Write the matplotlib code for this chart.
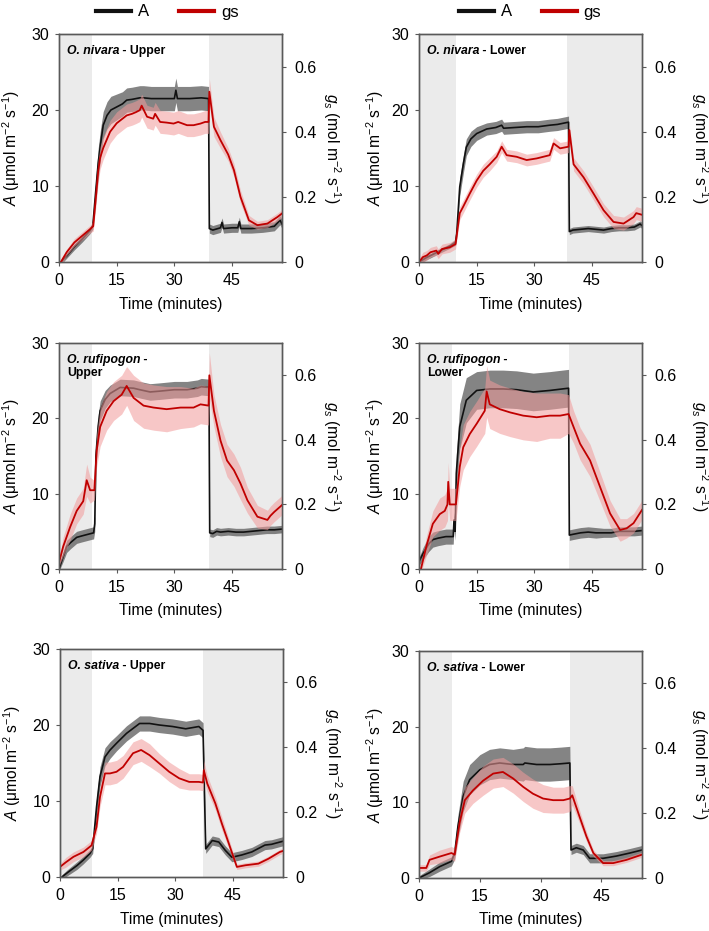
import matplotlib
matplotlib.use("Agg")
import matplotlib.pyplot as plt
from matplotlib.lines import Line2D
import numpy as np

plt.rcParams["font.family"] = ["Liberation Sans", "DejaVu Sans"]
plt.rcParams["mathtext.fontset"] = "custom"
plt.rcParams["mathtext.rm"] = "Liberation Sans"
plt.rcParams["mathtext.it"] = "Liberation Sans:italic"
plt.rcParams["mathtext.bf"] = "Liberation Sans:bold"

SPINE = "#595959"
SHADE = "#ebebeb"
BLACK = "#111111"
RED = "#c00000"
GRAY_BAND = "#6e6e6e"
PINK_BAND = "#f29a9a"

# ── data ──
SPECIES = ["O. nivara", "O. nivara", "O. rufipogon", "O. rufipogon", "O. sativa", "O. sativa"]
SIDES = ["Upper", "Lower", "Upper", "Lower", "Upper", "Lower"]
XMAX = [58, 58, 58, 58, 58, 55]
DARK_END = [8.6, 9.6, 8.6, 8.6, 8.3, 8.1]
DARK_START = [38.9, 38.6, 38.9, 38.9, 37.2, 37.3]

# O. nivara - Upper
T_A1 = [0.5, 2, 4, 6, 8, 8.8, 9.5, 10.2, 10.8, 11.5, 12.5, 13.5, 15, 16.5, 17.6, 19, 21, 22, 24, 27,
        30, 30.4, 30.8, 34, 37, 38.9, 39.1, 40, 42, 42.4, 42.8, 45, 46.5, 46.9, 47.3, 50, 53, 56, 57.5, 58]
A1 = [0, 0.8, 2.0, 3.0, 4.1, 4.8, 9.0, 13.0, 15.5, 18.0, 19.3, 20.0, 20.4, 20.8, 21.3, 21.4, 21.6, 21.6, 21.5, 21.5,
      21.5, 22.6, 21.5, 21.5, 21.6, 21.5, 4.4, 4.2, 4.5, 5.2, 4.4, 4.5, 4.5, 5.3, 4.4, 4.4, 4.5, 4.7, 5.5, 5.0]
A1_ERR = [0.3, 0.3, 0.4, 0.4, 0.4, 0.5, 1.5, 2.0, 2.0, 1.8, 1.8, 1.8, 1.7, 1.6, 1.6, 1.6, 1.6, 1.6, 1.6, 1.6,
          1.6, 1.6, 1.6, 1.6, 1.6, 1.6, 0.6, 0.6, 0.6, 0.6, 0.6, 0.6, 0.6, 0.6, 0.6, 0.6, 0.6, 0.6, 0.6, 0.6]
T_G1 = [0.5, 2, 4, 6, 8, 8.9, 9.6, 10.2, 10.7, 11.5, 13.3, 15, 17.6, 19, 20, 21, 21.5, 22.9, 24.5, 25,
        26.3, 28, 29.8, 31, 33.3, 35, 36.8, 38, 38.9, 39.1, 40.3, 42, 44, 45.5, 47.2, 49.4, 51.6, 54.2, 56.8, 58]
G1 = [0.0, 0.03, 0.06, 0.08, 0.10, 0.11, 0.20, 0.28, 0.32, 0.35, 0.40, 0.426, 0.45, 0.455, 0.46, 0.466, 0.48, 0.446, 0.44, 0.455,
      0.43, 0.428, 0.425, 0.43, 0.42, 0.42, 0.425, 0.43, 0.43, 0.523, 0.415, 0.374, 0.33, 0.282, 0.20, 0.128, 0.113, 0.118, 0.138, 0.149]
G1_ERR = [0.01, 0.01, 0.012, 0.012, 0.012, 0.015, 0.03, 0.035, 0.035, 0.035, 0.035, 0.035, 0.035, 0.035, 0.035, 0.035, 0.035, 0.035, 0.035, 0.035,
          0.035, 0.035, 0.035, 0.035, 0.035, 0.035, 0.035, 0.035, 0.035, 0.04, 0.03, 0.025, 0.02, 0.02, 0.02, 0.015, 0.012, 0.012, 0.012, 0.012]

# O. nivara - Lower
T_A2 = [0, 2, 4, 6, 8, 9.5, 9.8, 10.6, 11.5, 12.3, 13.5, 15, 17.6, 20, 21.5, 22, 25, 28, 31, 34,
        36, 38.9, 39.1, 40, 42, 44, 46, 48, 50, 52, 54, 56, 57.5, 58]
A2 = [0, 0.6, 1.1, 1.6, 2.1, 2.6, 3.7, 9.9, 12.8, 15.1, 16.2, 16.9, 17.5, 17.7, 18.0, 17.6, 17.7, 17.8, 17.8, 18.0,
      18.1, 18.4, 4.0, 4.2, 4.3, 4.4, 4.3, 4.2, 4.4, 4.5, 4.5, 4.6, 5.0, 4.8]
A2_ERR = [0.3, 0.3, 0.3, 0.3, 0.3, 0.4, 0.6, 1.2, 1.2, 1.1, 1.0, 0.9, 0.8, 0.8, 0.8, 0.8, 0.8, 0.8, 0.8, 0.8,
          0.8, 0.8, 0.4, 0.4, 0.4, 0.4, 0.4, 0.4, 0.4, 0.4, 0.4, 0.4, 0.4, 0.4]
T_G2 = [0, 1, 2, 3, 4.5, 5, 6, 8, 9.5, 10.6, 11.5, 13.2, 15, 16.7, 18.4, 20.2, 21.5, 22.8, 25.4, 28,
        30.6, 34, 35, 36.7, 38.9, 39.1, 40.2, 42.8, 45.4, 48, 50.6, 53.2, 55.8, 56.5, 58]
G2 = [0.0, 0.015, 0.02, 0.03, 0.035, 0.025, 0.04, 0.045, 0.055, 0.15, 0.17, 0.21, 0.25, 0.28, 0.30, 0.323, 0.354, 0.328, 0.323, 0.313,
      0.318, 0.328, 0.364, 0.349, 0.354, 0.405, 0.30, 0.26, 0.21, 0.159, 0.123, 0.118, 0.138, 0.15, 0.145]
G2_ERR = [0.01, 0.015, 0.015, 0.015, 0.015, 0.015, 0.015, 0.015, 0.015, 0.02, 0.02, 0.02, 0.02, 0.02, 0.02, 0.018, 0.018, 0.018, 0.018, 0.018,
          0.018, 0.018, 0.018, 0.018, 0.018, 0.02, 0.02, 0.02, 0.02, 0.02, 0.02, 0.02, 0.02, 0.02, 0.02]

# O. rufipogon - Upper
T_A3 = [0, 1, 2, 3, 4.6, 6, 7.5, 9.0, 9.3, 9.6, 10.2, 10.7, 12, 13.3, 15.9, 19.4, 21, 23.7, 26, 28,
        30, 33.3, 36, 37, 39.0, 39.2, 40, 41, 42, 44, 46, 48, 50, 52, 54, 56, 58]
A3 = [0, 1.5, 3.0, 3.5, 4.2, 4.4, 4.6, 4.8, 6, 15, 19, 21, 22.5, 23.3, 24.1, 24.0, 23.8, 23.5, 23.6, 23.7,
      23.8, 23.8, 24, 24.2, 24.1, 4.8, 4.7, 5.0, 4.9, 5.0, 4.9, 4.9, 5.0, 5.1, 5.2, 5.2, 5.3]
A3_ERR = [0.3, 0.6, 0.8, 0.8, 0.8, 0.8, 0.8, 0.8, 1.0, 1.5, 1.5, 1.3, 1.2, 1.1, 1.1, 1.1, 1.1, 1.1, 1.1, 1.1,
          1.1, 1.1, 1.1, 1.1, 1.1, 0.5, 0.5, 0.5, 0.5, 0.5, 0.5, 0.5, 0.5, 0.5, 0.5, 0.5, 0.5]
T_G3 = [0, 1.1, 2.9, 4.6, 6.3, 7.2, 8.1, 9.2, 9.8, 10.7, 12.4, 14.2, 16.3, 17.6, 19.4, 22, 24.6, 28, 31.6, 35,
        36.8, 38.9, 39.1, 40.3, 42, 43.7, 45.5, 47.2, 49, 51.6, 54.2, 55, 56, 58]
G3 = [0.02, 0.07, 0.13, 0.18, 0.21, 0.275, 0.244, 0.244, 0.367, 0.44, 0.49, 0.52, 0.54, 0.567, 0.53, 0.506, 0.50, 0.495, 0.50, 0.50,
      0.51, 0.506, 0.60, 0.49, 0.398, 0.336, 0.306, 0.265, 0.213, 0.162, 0.152, 0.165, 0.177, 0.198]
G3_ERR = [0.01, 0.03, 0.04, 0.04, 0.04, 0.05, 0.04, 0.03, 0.05, 0.06, 0.06, 0.06, 0.06, 0.06, 0.07, 0.07, 0.07, 0.07, 0.065, 0.06,
          0.06, 0.06, 0.07, 0.05, 0.05, 0.05, 0.05, 0.05, 0.04, 0.035, 0.03, 0.03, 0.03, 0.03]

# O. rufipogon - Lower
T_A4 = [0, 1, 2.5, 3.6, 5, 7, 8.9, 9.1, 9.4, 9.7, 10.6, 12.3, 15, 18.4, 21.9, 25.4, 29.7, 34, 38.9, 39.1,
        40, 42, 44, 46, 48, 50, 52, 54, 56, 58]
A4 = [1.0, 2.0, 3.3, 3.9, 4.1, 4.3, 4.3, 6.5, 5.0, 12.7, 18.9, 22.4, 23.7, 23.9, 23.9, 23.8, 23.5, 23.7, 24.0, 4.5,
      4.6, 4.8, 4.9, 4.8, 4.8, 4.8, 5.0, 5.0, 5.0, 5.1]
A4_ERR = [0.5, 0.8, 1.0, 1.0, 1.0, 1.0, 1.0, 1.0, 1.2, 2.5, 3.0, 3.0, 2.5, 2.5, 2.5, 2.5, 2.5, 2.5, 2.5, 0.7,
          0.7, 0.7, 0.7, 0.7, 0.6, 0.6, 0.6, 0.6, 0.6, 0.6]
T_G4 = [0.5, 1.9, 3.6, 5.4, 6.7, 7.4, 7.6, 8.0, 9.6, 10.6, 11.5, 13.2, 15, 17.1, 17.6, 18.4, 21, 23.7, 27.1, 30.6,
        34, 36.7, 38.9, 40.2, 41.9, 44.5, 47.1, 49.7, 52.3, 54, 55.8, 58]
G4 = [0.0, 0.07, 0.14, 0.17, 0.18, 0.20, 0.27, 0.20, 0.20, 0.316, 0.377, 0.418, 0.45, 0.49, 0.55, 0.51, 0.495, 0.485, 0.475, 0.47,
      0.475, 0.475, 0.48, 0.44, 0.388, 0.336, 0.254, 0.172, 0.121, 0.126, 0.142, 0.183]
G4_ERR = [0.01, 0.03, 0.04, 0.05, 0.05, 0.05, 0.06, 0.05, 0.05, 0.06, 0.07, 0.07, 0.07, 0.07, 0.08, 0.075, 0.075, 0.075, 0.075, 0.075,
          0.07, 0.07, 0.06, 0.05, 0.05, 0.05, 0.045, 0.04, 0.035, 0.03, 0.03, 0.03]

# O. sativa - Upper
T_A5 = [0.5, 2, 4.4, 6, 7.8, 8.5, 9.5, 10.4, 11.7, 13, 14.7, 17.3, 20.7, 23.3, 25.8, 29.3, 32.7, 36.1, 37.2, 37.9,
        39.6, 41.3, 43, 44.7, 47.3, 49.9, 53.3, 55, 57.2, 58]
A5 = [0, 0.6, 1.5, 2.2, 3.1, 3.7, 9.2, 13.2, 15.8, 16.7, 17.6, 18.9, 20.2, 20.2, 20.0, 19.8, 19.5, 19.8, 19.3, 3.7,
      4.8, 4.6, 3.5, 2.6, 2.9, 3.3, 4.2, 4.3, 4.6, 4.7]
A5_ERR = [0.3, 0.4, 0.5, 0.5, 0.5, 0.6, 1.2, 1.3, 1.2, 1.1, 1.0, 1.0, 1.0, 1.0, 1.0, 1.0, 1.0, 1.0, 1.0, 0.6,
          0.6, 0.6, 0.6, 0.6, 0.6, 0.6, 0.6, 0.6, 0.6, 0.6]
T_G5 = [0, 1.5, 3.5, 6.1, 8.2, 9.5, 10.4, 11.7, 13, 14.7, 16.4, 19, 21.1, 23.3, 25.8, 28.4, 31, 33.6, 36.1, 37.2,
        37.4, 38.3, 40.4, 42.1, 43.9, 46, 48.2, 51.6, 54.2, 57.2, 58]
G5 = [0.031, 0.045, 0.062, 0.077, 0.097, 0.154, 0.246, 0.318, 0.318, 0.323, 0.338, 0.38, 0.39, 0.374, 0.349, 0.323, 0.303, 0.292, 0.292, 0.29,
      0.328, 0.287, 0.226, 0.164, 0.103, 0.031, 0.036, 0.041, 0.056, 0.077, 0.08]
G5_ERR = [0.01, 0.015, 0.015, 0.015, 0.015, 0.02, 0.03, 0.035, 0.035, 0.035, 0.035, 0.035, 0.035, 0.035, 0.03, 0.03, 0.03, 0.025, 0.025, 0.025,
          0.03, 0.025, 0.02, 0.02, 0.015, 0.008, 0.008, 0.008, 0.008, 0.008, 0.008]

# O. sativa - Lower
T_A6 = [0, 2.6, 5.1, 8.0, 8.8, 9.6, 10.9, 12.5, 15.0, 17.4, 19.9, 23.2, 25.7, 26.1, 29, 32.3, 35, 37.2, 37.5, 38.8,
        40.5, 42.1, 45.4, 48.7, 52, 55]
A6 = [0, 0.7, 1.5, 2.2, 3.3, 6.8, 10.8, 13.0, 14.3, 15.0, 15.2, 15.0, 15.0, 15.2, 15.0, 15.0, 15.1, 15.2, 3.7, 4.0,
      3.7, 2.6, 2.6, 2.9, 3.3, 3.7]
A6_ERR = [0.3, 0.5, 0.6, 0.6, 0.8, 1.5, 2.0, 2.0, 2.0, 2.0, 2.0, 2.0, 2.2, 2.2, 2.2, 2.2, 2.2, 2.2, 0.6, 0.6,
          0.6, 0.6, 0.6, 0.6, 0.6, 0.6]
T_G6 = [0, 1.8, 2.6, 5.1, 8.0, 8.8, 10.0, 11.3, 13.3, 15.8, 18.3, 20.7, 23.2, 25.7, 28.1, 30.6, 33.1, 35.6, 37.2, 37.8,
        39.6, 41.3, 43.0, 45.4, 47.9, 51.2, 55]
G6 = [0.031, 0.031, 0.056, 0.066, 0.077, 0.072, 0.169, 0.24, 0.27, 0.30, 0.322, 0.327, 0.307, 0.281, 0.26, 0.245, 0.24, 0.24, 0.245, 0.255,
      0.189, 0.128, 0.077, 0.046, 0.046, 0.056, 0.072]
G6_ERR = [0.01, 0.01, 0.015, 0.02, 0.02, 0.02, 0.03, 0.04, 0.04, 0.045, 0.045, 0.045, 0.045, 0.045, 0.045, 0.043, 0.04, 0.04, 0.04, 0.03,
          0.02, 0.015, 0.01, 0.008, 0.008, 0.008, 0.008]

PANELS = [
    (T_A1, A1, A1_ERR, T_G1, G1, G1_ERR),
    (T_A2, A2, A2_ERR, T_G2, G2, G2_ERR),
    (T_A3, A3, A3_ERR, T_G3, G3, G3_ERR),
    (T_A4, A4, A4_ERR, T_G4, G4, G4_ERR),
    (T_A5, A5, A5_ERR, T_G5, G5, G5_ERR),
    (T_A6, A6, A6_ERR, T_G6, G6, G6_ERR),
]

# axes boxes in pixels: left, right, top, bottom
BOXES = [(59, 282, 34, 262), (419, 642, 34, 262),
         (59, 282, 343, 569), (419, 642, 343, 569),
         (60, 283, 649, 877), (419, 642, 651, 878)]

W, H = 709, 931
TICK_FS = 11.5
LABEL_FS = 11.2
NAME_FS = 8.8

fig = plt.figure(figsize=(W / 100, H / 100), dpi=100)

for i, (ta, a, ae, tg, g, ge) in enumerate(PANELS):
    l, r, t, b = BOXES[i]
    ax = fig.add_axes([l / W, 1 - b / H, (r - l) / W, (b - t) / H])
    ax2 = ax.twinx()

    ta, a, ae = np.array(ta), np.array(a), np.array(ae)
    tg, g, ge = np.array(tg), np.array(g), np.array(ge)

    ax.axvspan(0, DARK_END[i], color=SHADE, lw=0, zorder=0)
    ax.axvspan(DARK_START[i], XMAX[i], color=SHADE, lw=0, zorder=0)
    ax.fill_between(ta, a - ae, a + ae, color=GRAY_BAND, alpha=0.85, lw=0, zorder=1)
    ax.plot(ta, a, color=BLACK, lw=1.2, zorder=2)

    ax2.fill_between(tg, g - ge, g + ge, color=PINK_BAND, alpha=0.55, lw=0, zorder=1)
    ax2.plot(tg, g, color=RED, lw=1.3, zorder=2)

    ax.set_xlim(0, XMAX[i])
    ax.set_ylim(0, 30)
    ax2.set_ylim(0, 0.7)
    ax.set_xticks([0, 15, 30, 45])
    ax.set_yticks([0, 10, 20, 30])
    ax2.set_yticks([0, 0.2, 0.4, 0.6])
    ax2.set_yticklabels(["0", "0.2", "0.4", "0.6"])

    for a_ in (ax, ax2):
        for s in a_.spines.values():
            s.set_color(SPINE)
            s.set_linewidth(1.0)
    ax.tick_params(axis="both", direction="out", length=3, width=0.8, color=SPINE,
                   labelsize=TICK_FS, pad=4)
    ax.tick_params(axis="x", pad=5)
    ax2.tick_params(axis="y", direction="out", length=3, width=0.8, color=SPINE,
                    labelsize=TICK_FS, pad=6)

    ax.set_xlabel("Time (minutes)", fontsize=LABEL_FS, va="center")
    ax.xaxis.set_label_coords(0.5, -0.185)
    ax.set_ylabel(r"$A$ ($\mathrm{\mu}$mol m$^{-2}$ s$^{-1}$)", fontsize=LABEL_FS, va="center")
    ax2.set_ylabel(r"$g_s$ (mol m$^{-2}$ s$^{-1}$)", fontsize=LABEL_FS, rotation=270, va="center")
    if i % 2 == 0:
        ax.yaxis.set_label_coords(-0.215, 0.5)
        ax2.yaxis.set_label_coords(1.225, 0.5)
    else:
        ax.yaxis.set_label_coords(-0.197, 0.5)
        ax2.yaxis.set_label_coords(1.26, 0.5)

    sp = ax.text(0.035, 0.952, SPECIES[i], transform=ax.transAxes, fontsize=NAME_FS,
                 style="italic", weight="bold", va="top", ha="left", zorder=5)
    if SPECIES[i] == "O. rufipogon":
        ax.annotate(" -", xy=(1, 0), xycoords=sp, fontsize=NAME_FS, weight="bold",
                    va="bottom", ha="left", zorder=5)
        ax.annotate(SIDES[i], xy=(0, 0), xycoords=sp,
                    xytext=(0, -1), textcoords="offset points",
                    fontsize=NAME_FS, weight="bold", va="top", ha="left", zorder=5)
    else:
        ax.annotate(" - " + SIDES[i], xy=(1, 0), xycoords=sp, fontsize=NAME_FS, weight="bold",
                    va="bottom", ha="left", zorder=5)

handles = [Line2D([], [], color=BLACK, lw=3), Line2D([], [], color=RED, lw=3)]
for xc in (167.5 / W, 530 / W):
    fig.legend(handles, ["A", "gs"], loc="center", bbox_to_anchor=(xc, 1 - 12 / H),
               ncol=2, frameon=False, fontsize=12, handlelength=2.1,
               handletextpad=0.4, columnspacing=1.8, borderaxespad=0, borderpad=0)

fig.savefig("out.png", dpi=100)
